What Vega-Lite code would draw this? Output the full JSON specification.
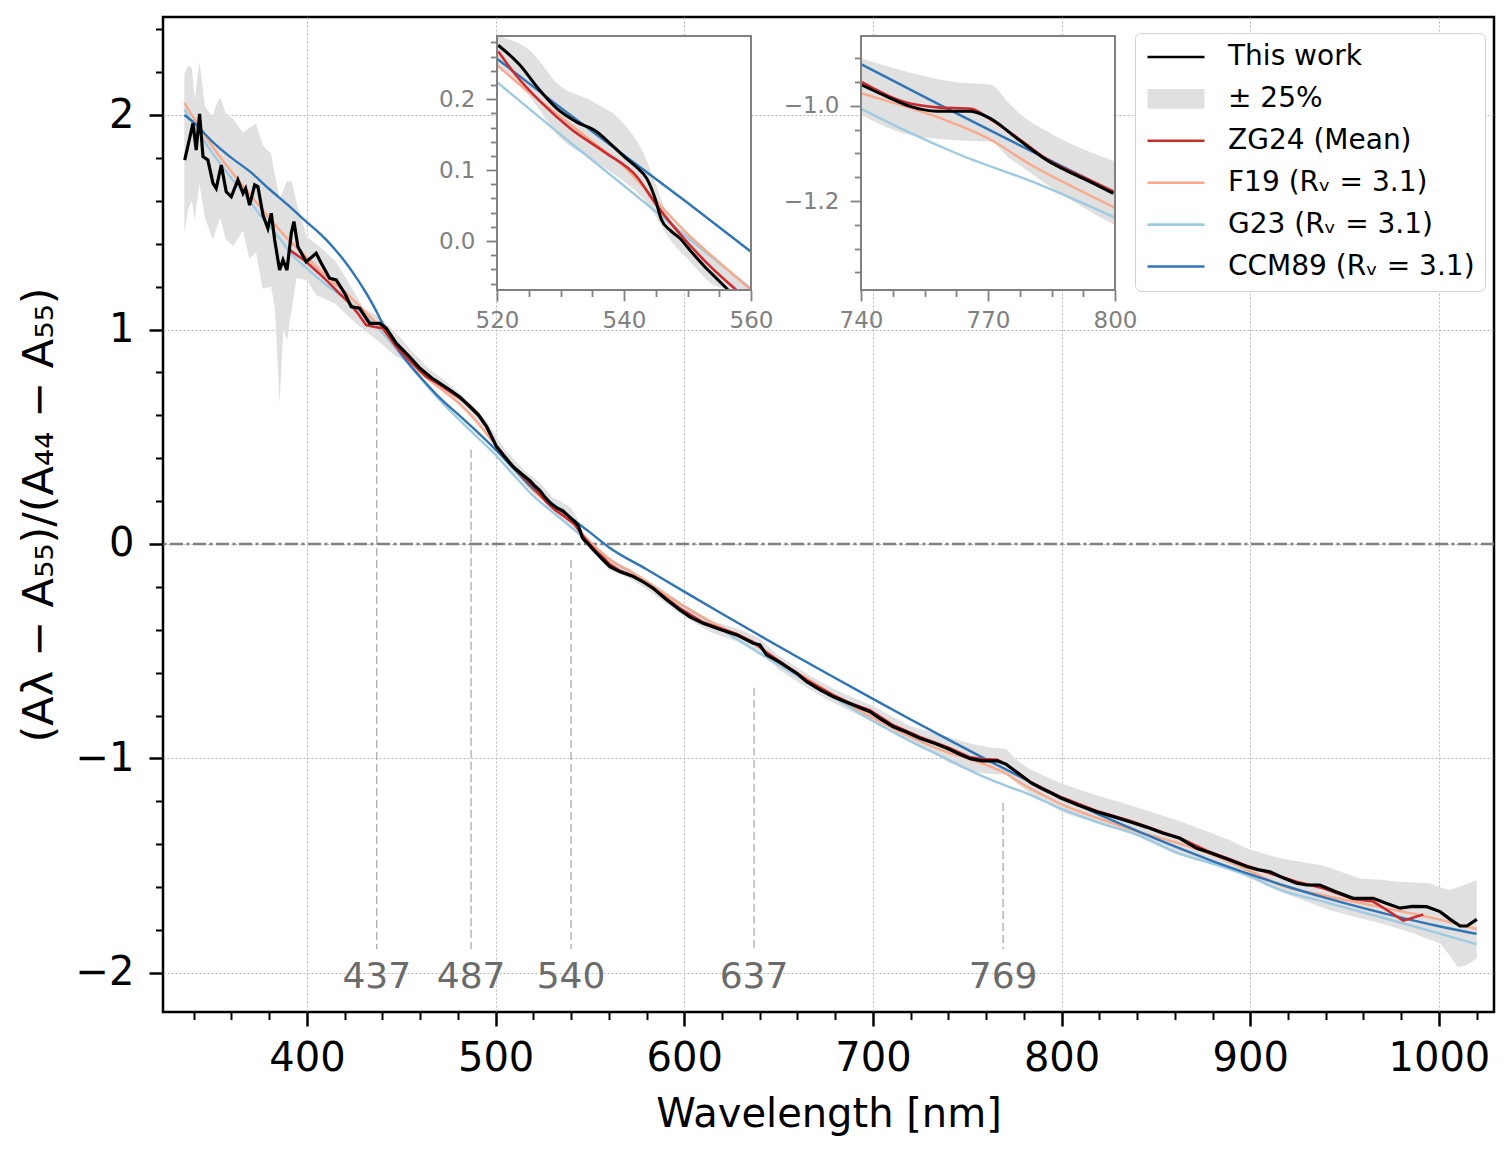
{
  "$schema": "https://vega.github.io/schema/vega-lite/v6.json",
  "padding": {"left": 18, "top": 17, "right": 10, "bottom": 10},
  "config": {"font": "DejaVu Sans"},
  "datasets": {
    "tw": [
      {"x":335.2,"y":1.79},{"x":337.5,"y":1.88},{"x":339.6,"y":1.961},{"x":341.3,"y":1.837},{"x":343.1,"y":2.005},{"x":344.9,"y":1.806},{"x":347.5,"y":1.79},{"x":350.2,"y":1.681},{"x":351.9,"y":1.658},{"x":354.6,"y":1.767},{"x":357.2,"y":1.642},{"x":359.9,"y":1.619},{"x":363.4,"y":1.697},{"x":366.1,"y":1.635},{"x":367.5,"y":1.658},{"x":369.6,"y":1.58},{"x":372.3,"y":1.674},{"x":374.0,"y":1.666},{"x":376.7,"y":1.534},{"x":379.3,"y":1.472},{"x":381.1,"y":1.542},{"x":382.9,"y":1.417},{"x":385.5,"y":1.277},{"x":387.3,"y":1.324},{"x":389.4,"y":1.277},{"x":391.7,"y":1.449},{"x":393.1,"y":1.503},{"x":395.2,"y":1.386},{"x":399.6,"y":1.316},{"x":404.9,"y":1.355},{"x":407.6,"y":1.309},{"x":412.0,"y":1.239},{"x":415.5,"y":1.231},{"x":420.0,"y":1.169},{"x":423.5,"y":1.106},{"x":427.9,"y":1.099},{"x":433.2,"y":1.029},{"x":438.5,"y":1.029},{"x":442.0,"y":1.006},{"x":447.3,"y":0.936},{"x":454.4,"y":0.873},{"x":459.9,"y":0.819},{"x":466,"y":0.775},{"x":475.8,"y":0.718},{"x":481,"y":0.685},{"x":486.4,"y":0.64},{"x":491,"y":0.6},{"x":495.2,"y":0.547},{"x":500.5,"y":0.454},{"x":505,"y":0.405},{"x":509.3,"y":0.36},{"x":514,"y":0.325},{"x":518.2,"y":0.295},{"x":520.2,"y":0.276},{"x":523.6,"y":0.248},{"x":526.5,"y":0.215},{"x":529.4,"y":0.187},{"x":532.5,"y":0.168},{"x":535.7,"y":0.154},{"x":538,"y":0.136},{"x":540.4,"y":0.116},{"x":542,"y":0.104},{"x":543.6,"y":0.088},{"x":544.9,"y":0.06},{"x":545.9,"y":0.03},{"x":547.3,"y":0.015},{"x":548.8,"y":0.004},{"x":550.5,"y":-0.014},{"x":552.5,"y":-0.034},{"x":554.5,"y":-0.052},{"x":556.4,"y":-0.069},{"x":560.6,"y":-0.106},{"x":566,"y":-0.13},{"x":573,"y":-0.152},{"x":578,"y":-0.175},{"x":583.5,"y":-0.207},{"x":590,"y":-0.255},{"x":597.7,"y":-0.308},{"x":603,"y":-0.34},{"x":610,"y":-0.37},{"x":618,"y":-0.395},{"x":627.8,"y":-0.424},{"x":636.6,"y":-0.463},{"x":640.1,"y":-0.471},{"x":643.6,"y":-0.517},{"x":650.7,"y":-0.552},{"x":659.6,"y":-0.603},{"x":664.9,"y":-0.642},{"x":672,"y":-0.68},{"x":679,"y":-0.712},{"x":688,"y":-0.745},{"x":698.4,"y":-0.782},{"x":704,"y":-0.815},{"x":710.8,"y":-0.852},{"x":718,"y":-0.878},{"x":724.9,"y":-0.906},{"x":733,"y":-0.93},{"x":740.2,"y":-0.956},{"x":746,"y":-0.98},{"x":751.6,"y":-1.001},{"x":757.9,"y":-1.011},{"x":765.8,"y":-1.011},{"x":770.5,"y":-1.026},{"x":776.8,"y":-1.068},{"x":783.9,"y":-1.114},{"x":788.5,"y":-1.136},{"x":793.3,"y":-1.156},{"x":799.6,"y":-1.184},{"x":809,"y":-1.218},{"x":818.6,"y":-1.248},{"x":827,"y":-1.27},{"x":836.2,"y":-1.295},{"x":845,"y":-1.32},{"x":853.9,"y":-1.349},{"x":862.7,"y":-1.372},{"x":871.6,"y":-1.419},{"x":876.9,"y":-1.434},{"x":889.2,"y":-1.473},{"x":898.1,"y":-1.504},{"x":904,"y":-1.518},{"x":910.4,"y":-1.528},{"x":917,"y":-1.555},{"x":924.6,"y":-1.582},{"x":930,"y":-1.59},{"x":936.9,"y":-1.59},{"x":945,"y":-1.62},{"x":954.6,"y":-1.652},{"x":965.2,"y":-1.652},{"x":972,"y":-1.675},{"x":979.4,"y":-1.698},{"x":986,"y":-1.69},{"x":993.5,"y":-1.691},{"x":1000.6,"y":-1.714},{"x":1006,"y":-1.75},{"x":1011.2,"y":-1.781},{"x":1014.8,"y":-1.781},{"x":1020.1,"y":-1.75}
    ],
    "zg": [
      {"x":390.8,"y":1.371},{"x":395,"y":1.345},{"x":399.6,"y":1.316},{"x":406,"y":1.265},{"x":412,"y":1.215},{"x":417,"y":1.17},{"x":422.6,"y":1.122},{"x":427,"y":1.075},{"x":431.4,"y":1.021},{"x":436,"y":1.012},{"x":440.3,"y":1.006},{"x":447.3,"y":0.92},{"x":455,"y":0.85},{"x":463.2,"y":0.78},{"x":470,"y":0.745},{"x":475.8,"y":0.71},{"x":481,"y":0.68},{"x":486.4,"y":0.645},{"x":491,"y":0.605},{"x":495.2,"y":0.55},{"x":500.5,"y":0.455},{"x":505,"y":0.405},{"x":510,"y":0.355},{"x":515,"y":0.31},{"x":520.2,"y":0.267},{"x":522.6,"y":0.238},{"x":527,"y":0.195},{"x":531.5,"y":0.159},{"x":537,"y":0.125},{"x":542,"y":0.091},{"x":545.1,"y":0.051},{"x":549.9,"y":-0.001},{"x":553.5,"y":-0.035},{"x":557.7,"y":-0.069},{"x":560.6,"y":-0.095},{"x":566,"y":-0.125},{"x":573,"y":-0.15},{"x":583.5,"y":-0.205},{"x":590,"y":-0.25},{"x":597.7,"y":-0.3},{"x":610,"y":-0.365},{"x":618,"y":-0.39},{"x":627.8,"y":-0.42},{"x":636.6,"y":-0.458},{"x":643.6,"y":-0.505},{"x":650.7,"y":-0.548},{"x":664.9,"y":-0.635},{"x":679,"y":-0.705},{"x":688,"y":-0.742},{"x":698.4,"y":-0.775},{"x":710.8,"y":-0.845},{"x":724.9,"y":-0.9},{"x":740.2,"y":-0.95},{"x":751.6,"y":-0.995},{"x":758,"y":-1.003},{"x":766,"y":-1.006},{"x":770.5,"y":-1.028},{"x":776.8,"y":-1.066},{"x":783.9,"y":-1.112},{"x":793.3,"y":-1.153},{"x":799.6,"y":-1.18},{"x":818.6,"y":-1.245},{"x":836.2,"y":-1.29},{"x":853.9,"y":-1.345},{"x":862.7,"y":-1.37},{"x":876.9,"y":-1.43},{"x":889.2,"y":-1.47},{"x":898,"y":-1.5},{"x":910.4,"y":-1.535},{"x":924.6,"y":-1.575},{"x":938.7,"y":-1.605},{"x":954.6,"y":-1.655},{"x":965.2,"y":-1.667},{"x":973,"y":-1.71},{"x":981.1,"y":-1.756},{"x":991.7,"y":-1.727}
    ],
    "f19": [
      {"x":335,"y":2.057},{"x":340,"y":1.985},{"x":350,"y":1.852},{"x":360,"y":1.735},{"x":370,"y":1.628},{"x":380,"y":1.52},{"x":390,"y":1.42},{"x":400,"y":1.336},{"x":410,"y":1.25},{"x":420,"y":1.175},{"x":430,"y":1.09},{"x":440,"y":1.0},{"x":450,"y":0.895},{"x":460,"y":0.8},{"x":470,"y":0.73},{"x":480,"y":0.66},{"x":490,"y":0.57},{"x":500,"y":0.46},{"x":510,"y":0.355},{"x":520,"y":0.248},{"x":525,"y":0.21},{"x":530,"y":0.175},{"x":535,"y":0.14},{"x":540,"y":0.105},{"x":545,"y":0.057},{"x":550,"y":0.01},{"x":555,"y":-0.03},{"x":560,"y":-0.07},{"x":570,"y":-0.12},{"x":580,"y":-0.175},{"x":590,"y":-0.235},{"x":600,"y":-0.29},{"x":620,"y":-0.39},{"x":640,"y":-0.48},{"x":650,"y":-0.55},{"x":660,"y":-0.6},{"x":680,"y":-0.71},{"x":700,"y":-0.81},{"x":720,"y":-0.9},{"x":740,"y":-0.973},{"x":750,"y":-1.0},{"x":760,"y":-1.03},{"x":770,"y":-1.068},{"x":780,"y":-1.123},{"x":790,"y":-1.17},{"x":800,"y":-1.214},{"x":820,"y":-1.28},{"x":840,"y":-1.34},{"x":862,"y":-1.395},{"x":880,"y":-1.45},{"x":900,"y":-1.525},{"x":916,"y":-1.59},{"x":940,"y":-1.64},{"x":968,"y":-1.691},{"x":1000,"y":-1.75},{"x":1020,"y":-1.795}
    ],
    "g23": [
      {"x":335,"y":2.026},{"x":340,"y":1.955},{"x":350,"y":1.821},{"x":360,"y":1.705},{"x":368,"y":1.619},{"x":376,"y":1.525},{"x":385.5,"y":1.425},{"x":392,"y":1.35},{"x":400,"y":1.285},{"x":410,"y":1.21},{"x":420,"y":1.145},{"x":430,"y":1.07},{"x":440,"y":0.985},{"x":450,"y":0.88},{"x":460,"y":0.775},{"x":470,"y":0.675},{"x":480,"y":0.585},{"x":490,"y":0.5},{"x":500,"y":0.415},{"x":510,"y":0.318},{"x":520,"y":0.224},{"x":530,"y":0.15},{"x":540,"y":0.078},{"x":550,"y":0.005},{"x":560,"y":-0.067},{"x":570,"y":-0.125},{"x":580,"y":-0.18},{"x":600,"y":-0.29},{"x":620,"y":-0.4},{"x":640,"y":-0.51},{"x":660,"y":-0.615},{"x":680,"y":-0.72},{"x":700,"y":-0.825},{"x":720,"y":-0.92},{"x":740,"y":-1.006},{"x":750,"y":-1.05},{"x":762.6,"y":-1.1},{"x":781.5,"y":-1.163},{"x":800,"y":-1.235},{"x":820,"y":-1.3},{"x":840,"y":-1.355},{"x":862,"y":-1.442},{"x":880,"y":-1.49},{"x":900,"y":-1.55},{"x":916,"y":-1.613},{"x":940,"y":-1.67},{"x":968,"y":-1.737},{"x":1000,"y":-1.815},{"x":1020,"y":-1.866}
    ],
    "ccm": [
      {"x":335,"y":2.0},{"x":340,"y":1.965},{"x":350,"y":1.875},{"x":360,"y":1.8},{"x":370,"y":1.735},{"x":380,"y":1.655},{"x":390,"y":1.58},{"x":400,"y":1.5},{"x":405,"y":1.462},{"x":410,"y":1.42},{"x":415,"y":1.372},{"x":420,"y":1.318},{"x":425,"y":1.257},{"x":430,"y":1.19},{"x":435,"y":1.115},{"x":440,"y":1.03},{"x":445,"y":0.953},{"x":450,"y":0.885},{"x":460,"y":0.78},{"x":470,"y":0.685},{"x":480,"y":0.605},{"x":490,"y":0.525},{"x":500,"y":0.44},{"x":510,"y":0.348},{"x":520,"y":0.257},{"x":530,"y":0.188},{"x":540,"y":0.121},{"x":550,"y":0.054},{"x":560,"y":-0.015},{"x":580,"y":-0.118},{"x":600,"y":-0.222},{"x":620,"y":-0.325},{"x":640,"y":-0.427},{"x":660,"y":-0.527},{"x":680,"y":-0.625},{"x":700,"y":-0.722},{"x":720,"y":-0.818},{"x":740,"y":-0.912},{"x":760,"y":-1.004},{"x":780,"y":-1.094},{"x":800,"y":-1.182},{"x":820,"y":-1.262},{"x":840,"y":-1.338},{"x":860,"y":-1.41},{"x":880,"y":-1.478},{"x":900,"y":-1.54},{"x":920,"y":-1.598},{"x":940,"y":-1.65},{"x":960,"y":-1.698},{"x":980,"y":-1.742},{"x":1000,"y":-1.782},{"x":1020,"y":-1.818}
    ],
    "band": [
      {"x":335,"lo":1.45,"hi":2.19},{"x":337,"lo":1.56,"hi":2.23},{"x":339,"lo":1.6,"hi":2.22},{"x":340.5,"lo":1.51,"hi":2.07},{"x":343,"lo":1.68,"hi":2.25},{"x":346,"lo":1.52,"hi":2.04},{"x":350,"lo":1.42,"hi":1.99},{"x":352,"lo":1.47,"hi":2.05},{"x":354,"lo":1.52,"hi":2.08},{"x":357,"lo":1.42,"hi":2.01},{"x":361,"lo":1.39,"hi":1.98},{"x":366,"lo":1.46,"hi":1.92},{"x":369.5,"lo":1.33,"hi":1.94},{"x":373,"lo":1.36,"hi":1.96},{"x":376.5,"lo":1.19,"hi":1.86},{"x":381,"lo":1.2,"hi":1.82},{"x":383,"lo":1.1,"hi":1.72},{"x":385.5,"lo":0.65,"hi":1.61},{"x":387.5,"lo":1.0,"hi":1.65},{"x":389.5,"lo":0.95,"hi":1.69},{"x":392,"lo":1.1,"hi":1.69},{"x":394.5,"lo":1.24,"hi":1.59},{"x":400,"lo":1.23,"hi":1.43},{"x":405,"lo":1.16,"hi":1.4},{"x":410,"lo":1.14,"hi":1.36},{"x":415,"lo":1.12,"hi":1.32},{"x":422,"lo":1.06,"hi":1.22},{"x":430,"lo":1.0,"hi":1.1},{"x":438,"lo":0.945,"hi":1.06},{"x":447,"lo":0.875,"hi":0.985},{"x":455,"lo":0.84,"hi":0.905},{"x":465,"lo":0.755,"hi":0.815},{"x":475,"lo":0.69,"hi":0.75},{"x":485,"lo":0.62,"hi":0.67},{"x":495,"lo":0.52,"hi":0.575},{"x":505,"lo":0.38,"hi":0.44},{"x":515,"lo":0.28,"hi":0.345},{"x":520,"lo":0.245,"hi":0.31},{"x":525,"lo":0.205,"hi":0.27},{"x":530,"lo":0.145,"hi":0.218},{"x":535,"lo":0.115,"hi":0.197},{"x":540,"lo":0.084,"hi":0.165},{"x":543,"lo":0.06,"hi":0.125},{"x":545,"lo":0.035,"hi":0.08},{"x":547,"lo":0.005,"hi":0.035},{"x":550,"lo":-0.025,"hi":0.01},{"x":555,"lo":-0.065,"hi":-0.03},{"x":560,"lo":-0.12,"hi":-0.085},{"x":570,"lo":-0.155,"hi":-0.11},{"x":580,"lo":-0.21,"hi":-0.165},{"x":590,"lo":-0.275,"hi":-0.22},{"x":600,"lo":-0.34,"hi":-0.285},{"x":615,"lo":-0.415,"hi":-0.36},{"x":630,"lo":-0.46,"hi":-0.4},{"x":640,"lo":-0.5,"hi":-0.44},{"x":650,"lo":-0.585,"hi":-0.52},{"x":665,"lo":-0.67,"hi":-0.605},{"x":680,"lo":-0.745,"hi":-0.68},{"x":700,"lo":-0.83,"hi":-0.755},{"x":720,"lo":-0.915,"hi":-0.85},{"x":740,"lo":-1.019,"hi":-0.9},{"x":751.6,"lo":-1.061,"hi":-0.93},{"x":762.6,"lo":-1.072,"hi":-0.95},{"x":770.5,"lo":-1.075,"hi":-0.955},{"x":775,"lo":-1.11,"hi":-0.995},{"x":778,"lo":-1.128,"hi":-1.02},{"x":784,"lo":-1.166,"hi":-1.054},{"x":800,"lo":-1.251,"hi":-1.117},{"x":818,"lo":-1.3,"hi":-1.17},{"x":836,"lo":-1.349,"hi":-1.217},{"x":862,"lo":-1.45,"hi":-1.29},{"x":889,"lo":-1.52,"hi":-1.38},{"x":898,"lo":-1.551,"hi":-1.419},{"x":915.7,"lo":-1.621,"hi":-1.465},{"x":936.9,"lo":-1.69,"hi":-1.497},{"x":942,"lo":-1.706,"hi":-1.51},{"x":958,"lo":-1.745,"hi":-1.559},{"x":968.7,"lo":-1.768,"hi":-1.565},{"x":977.5,"lo":-1.79,"hi":-1.574},{"x":986.4,"lo":-1.815,"hi":-1.578},{"x":995,"lo":-1.845,"hi":-1.582},{"x":1000.6,"lo":-1.862,"hi":-1.6},{"x":1005.8,"lo":-1.92,"hi":-1.613},{"x":1010,"lo":-1.975,"hi":-1.6},{"x":1014.8,"lo":-1.963,"hi":-1.585},{"x":1020,"lo":-1.932,"hi":-1.566}
    ],
    "marks": [
      {"w":437,"top":0.82},{"w":487,"top":0.438},{"w":540,"top":-0.075},{"w":637,"top":-0.67},{"w":769,"top":-1.207}
    ]
  },
  "width": 1331,
  "height": 995,
  "view": {"stroke": "black", "strokeWidth": 2.5},
  "resolve": {"scale": {"x": "independent", "y": "independent"}, "axis": {"x": "independent", "y": "independent"}},
  "layer": [
    {
      "data": {"name": "band"},
      "mark": {"type": "area", "color": "#e0e0e0", "clip": true},
      "encoding": {
        "x": {"field": "x", "type": "quantitative", "scale": {"domain": [323.7, 1029.2], "nice": false, "zero": false},
          "axis": {"orient": "bottom", "title": "Wavelength [nm]", "values": [400,500,600,700,800,900,1000], "format": "d",
            "domain": false, "tickColor": "black", "tickWidth": 2.5, "tickSize": 14,
            "grid": true, "gridColor": "#b0b0b0", "gridDash": [2, 2], "gridWidth": 0.9,
            "labelFontSize": 40, "labelColor": "black", "labelPadding": 12, "labelOverlap": false, "labelFlush": false,
            "titleFontSize": 40, "titleFontWeight": "normal", "titleColor": "black", "titlePadding": 16}},
        "y": {"field": "lo", "type": "quantitative", "scale": {"domain": [-2.182, 2.457], "nice": false, "zero": false},
          "axis": {"orient": "left", "title": "(Aλ − A₅₅)/(A₄₄ − A₅₅)", "values": [-2,-1,0,1,2], "format": "d",
            "domain": false, "tickColor": "black", "tickWidth": 2.5, "tickSize": 14,
            "grid": true, "gridColor": "#b0b0b0", "gridDash": [2, 2], "gridWidth": 0.9,
            "labelFontSize": 40, "labelColor": "black", "labelPadding": 15, "labelOverlap": false, "labelFlush": false,
            "titleFontSize": 43, "titleFontWeight": "normal", "titleColor": "black", "titlePadding": 14}},
        "y2": {"field": "hi"}
      }
    },
    {
      "data": {"name": "marks"},
      "mark": {"type": "rule", "color": "#ababab", "strokeWidth": 1.3, "strokeDash": [8, 4]},
      "encoding": {
        "x": {"field": "w", "type": "quantitative", "scale": {"domain": [323.7, 1029.2], "nice": false, "zero": false},
          "axis": {"orient": "bottom", "title": null, "values": [340,360,380,420,440,460,480,520,540,560,580,620,640,660,680,720,740,760,780,820,840,860,880,920,940,960,980,1020],
            "labels": false, "domain": false, "grid": false, "tickColor": "black", "tickWidth": 2, "tickSize": 7.5}},
        "y": {"field": "top", "type": "quantitative", "scale": {"domain": [-2.182, 2.457], "nice": false, "zero": false},
          "axis": {"orient": "left", "title": null, "values": [-1.8,-1.6,-1.4,-1.2,-0.8,-0.6,-0.4,-0.2,0.2,0.4,0.6,0.8,1.2,1.4,1.6,1.8,2.2,2.4],
            "labels": false, "domain": false, "grid": false, "tickColor": "black", "tickWidth": 2, "tickSize": 7.5}},
        "y2": {"datum": -1.89}
      }
    },
    {
      "data": {"values": [{"v": 0}]},
      "mark": {"type": "rule", "color": "#808080", "strokeWidth": 2.5, "strokeDash": [13, 3.5, 3, 3.5]},
      "encoding": {"y": {"field": "v", "type": "quantitative", "scale": {"domain": [-2.182, 2.457], "nice": false, "zero": false}, "axis": null}}
    },
    {
      "data": {"name": "marks"},
      "mark": {"type": "text", "color": "#6b6b6b", "fontSize": 36, "baseline": "middle", "align": "center"},
      "encoding": {
        "x": {"field": "w", "type": "quantitative", "scale": {"domain": [323.7, 1029.2], "nice": false, "zero": false}, "axis": null},
        "y": {"datum": -2.02, "type": "quantitative", "scale": {"domain": [-2.182, 2.457], "nice": false, "zero": false}, "axis": null},
        "text": {"field": "w", "type": "quantitative"}
      }
    },
    {
      "data": {"name": "g23"},
      "mark": {"type": "line", "strokeWidth": 2.4, "interpolate": "monotone", "clip": true},
      "encoding": {
        "x": {"field": "x", "type": "quantitative", "scale": {"domain": [323.7, 1029.2], "nice": false, "zero": false}, "axis": null},
        "y": {"field": "y", "type": "quantitative", "scale": {"domain": [-2.182, 2.457], "nice": false, "zero": false}, "axis": null},
        "color": {"datum": "G23 (Rᵥ = 3.1)", "type": "nominal",
          "scale": {"domain": ["This work", "± 25%", "ZG24 (Mean)", "F19 (Rᵥ = 3.1)", "G23 (Rᵥ = 3.1)", "CCM89 (Rᵥ = 3.1)"], "range": ["#000000", "#e0e0e0", "#cb2b2e", "#f9a98b", "#9ecae1", "#2f74b5"]},
          "legend": {"orient": "none", "legendX": 972, "legendY": 16, "title": null,
            "fillColor": "white", "strokeColor": "#d0d0d0", "cornerRadius": 6, "padding": 10,
            "labelFontSize": 28, "labelFont": "DejaVu Sans", "labelColor": "black", "labelLimit": 600,
            "symbolType": "M-2,0H2", "symbolSize": 812, "symbolStrokeWidth": 2.6, "symbolOffset": 17, "labelOffset": 38, "rowPadding": 13.9,
            "encode": {"symbols": {"update": {
              "shape": {"signal": "datum.value === '± 25%' ? 'M-2,-0.7H2V0.7H-2Z' : 'M-2,0H2'"},
              "fill": {"signal": "datum.value === '± 25%' ? '#e0e0e0' : 'transparent'"},
              "strokeWidth": {"signal": "datum.value === '± 25%' ? 0 : 2.6"}
            }}}}
        }
      }
    },
    {
      "data": {"name": "f19"},
      "mark": {"type": "line", "strokeWidth": 2.4, "interpolate": "monotone", "clip": true},
      "encoding": {
        "x": {"field": "x", "type": "quantitative", "scale": {"domain": [323.7, 1029.2], "nice": false, "zero": false}, "axis": null},
        "y": {"field": "y", "type": "quantitative", "scale": {"domain": [-2.182, 2.457], "nice": false, "zero": false}, "axis": null},
        "color": {"datum": "F19 (Rᵥ = 3.1)", "type": "nominal"}
      }
    },
    {
      "data": {"name": "ccm"},
      "mark": {"type": "line", "strokeWidth": 2.4, "interpolate": "monotone", "clip": true},
      "encoding": {
        "x": {"field": "x", "type": "quantitative", "scale": {"domain": [323.7, 1029.2], "nice": false, "zero": false}, "axis": null},
        "y": {"field": "y", "type": "quantitative", "scale": {"domain": [-2.182, 2.457], "nice": false, "zero": false}, "axis": null},
        "color": {"datum": "CCM89 (Rᵥ = 3.1)", "type": "nominal"}
      }
    },
    {
      "data": {"name": "zg"},
      "mark": {"type": "line", "strokeWidth": 2.6, "clip": true},
      "encoding": {
        "x": {"field": "x", "type": "quantitative", "scale": {"domain": [323.7, 1029.2], "nice": false, "zero": false}, "axis": null},
        "y": {"field": "y", "type": "quantitative", "scale": {"domain": [-2.182, 2.457], "nice": false, "zero": false}, "axis": null},
        "color": {"datum": "ZG24 (Mean)", "type": "nominal"}
      }
    },
    {
      "data": {"name": "tw"},
      "mark": {"type": "line", "strokeWidth": 3.2, "clip": true},
      "encoding": {
        "x": {"field": "x", "type": "quantitative", "scale": {"domain": [323.7, 1029.2], "nice": false, "zero": false}, "axis": null},
        "y": {"field": "y", "type": "quantitative", "scale": {"domain": [-2.182, 2.457], "nice": false, "zero": false}, "axis": null},
        "color": {"datum": "This work", "type": "nominal"}
      }
    },

    {
      "data": {"values": [{"a": 1}]},
      "mark": {"type": "rect", "fill": "white", "strokeWidth": 0},
      "encoding": {
        "x": {"datum": 520, "type": "quantitative", "scale": {"domain": [520, 560], "range": [334, 588], "nice": false, "zero": false},
          "axis": {"orient": "bottom", "offset": -722, "zindex": 3, "title": null, "values": [520, 540, 560], "format": "d",
            "domain": false, "grid": false, "tickColor": "#808080", "tickWidth": 1.8, "tickSize": 11,
            "labelColor": "#808080", "labelFontSize": 23, "labelPadding": 8, "labelOverlap": false, "labelFlush": false}},
        "x2": {"datum": 560},
        "y": {"datum": -0.069, "type": "quantitative", "scale": {"domain": [-0.069, 0.289], "range": [273, 19], "nice": false, "zero": false},
          "axis": {"orient": "left", "offset": -334, "zindex": 3, "title": null, "values": [0, 0.1, 0.2], "format": ".1f",
            "domain": false, "grid": false, "tickColor": "#808080", "tickWidth": 1.8, "tickSize": 11,
            "labelColor": "#808080", "labelFontSize": 23, "labelPadding": 11, "labelOverlap": false, "labelFlush": false}},
        "y2": {"datum": 0.289}
      }
    },
    {
      "data": {"name": "band"},
      "transform": [{"filter": "datum.x >= 520 && datum.x <= 560"}],
      "mark": {"type": "area", "color": "#e0e0e0", "interpolate": "monotone"},
      "encoding": {
        "x": {"field": "x", "type": "quantitative", "scale": {"domain": [520, 560], "range": [334, 588], "nice": false, "zero": false, "clamp": true},
          "axis": {"orient": "bottom", "offset": -722, "zindex": 3, "title": null, "values": [525,530,535,545,550,555], "labels": false,
            "domain": false, "grid": false, "tickColor": "#808080", "tickWidth": 1.8, "tickSize": 6.5}},
        "y": {"field": "lo", "type": "quantitative", "scale": {"domain": [-0.069, 0.289], "range": [273, 19], "nice": false, "zero": false, "clamp": true},
          "axis": {"orient": "left", "offset": -334, "zindex": 3, "title": null, "values": [-0.06,-0.04,-0.02,0.02,0.04,0.06,0.08,0.12,0.14,0.16,0.18,0.22,0.24,0.26,0.28], "labels": false,
            "domain": false, "grid": false, "tickColor": "#808080", "tickWidth": 1.8, "tickSize": 6.5}},
        "y2": {"field": "hi"}
      }
    },
    {"data": {"name": "g23"}, "transform": [{"filter": "datum.x >= 520 && datum.x <= 560"}],
      "mark": {"type": "line", "color": "#9ecae1", "strokeWidth": 2.4, "interpolate": "monotone"},
      "encoding": {"x": {"field": "x", "type": "quantitative", "scale": {"domain": [520, 560], "range": [334, 588], "nice": false, "zero": false, "clamp": true}, "axis": null},
        "y": {"field": "y", "type": "quantitative", "scale": {"domain": [-0.069, 0.289], "range": [273, 19], "nice": false, "zero": false, "clamp": true}, "axis": null}}},
    {"data": {"name": "f19"}, "transform": [{"filter": "datum.x >= 520 && datum.x <= 560"}],
      "mark": {"type": "line", "color": "#f9a98b", "strokeWidth": 2.4, "interpolate": "monotone"},
      "encoding": {"x": {"field": "x", "type": "quantitative", "scale": {"domain": [520, 560], "range": [334, 588], "nice": false, "zero": false, "clamp": true}, "axis": null},
        "y": {"field": "y", "type": "quantitative", "scale": {"domain": [-0.069, 0.289], "range": [273, 19], "nice": false, "zero": false, "clamp": true}, "axis": null}}},
    {"data": {"name": "ccm"}, "transform": [{"filter": "datum.x >= 520 && datum.x <= 560"}],
      "mark": {"type": "line", "color": "#2f74b5", "strokeWidth": 2.4, "interpolate": "monotone"},
      "encoding": {"x": {"field": "x", "type": "quantitative", "scale": {"domain": [520, 560], "range": [334, 588], "nice": false, "zero": false, "clamp": true}, "axis": null},
        "y": {"field": "y", "type": "quantitative", "scale": {"domain": [-0.069, 0.289], "range": [273, 19], "nice": false, "zero": false, "clamp": true}, "axis": null}}},
    {"data": {"name": "zg"}, "transform": [{"filter": "datum.x >= 520 && datum.x <= 560"}],
      "mark": {"type": "line", "color": "#cb2b2e", "strokeWidth": 2.6, "interpolate": "monotone"},
      "encoding": {"x": {"field": "x", "type": "quantitative", "scale": {"domain": [520, 560], "range": [334, 588], "nice": false, "zero": false, "clamp": true}, "axis": null},
        "y": {"field": "y", "type": "quantitative", "scale": {"domain": [-0.069, 0.289], "range": [273, 19], "nice": false, "zero": false, "clamp": true}, "axis": null}}},
    {"data": {"name": "tw"}, "transform": [{"filter": "datum.x >= 520 && datum.x <= 560"}],
      "mark": {"type": "line", "color": "#000000", "strokeWidth": 3, "interpolate": "monotone"},
      "encoding": {"x": {"field": "x", "type": "quantitative", "scale": {"domain": [520, 560], "range": [334, 588], "nice": false, "zero": false, "clamp": true}, "axis": null},
        "y": {"field": "y", "type": "quantitative", "scale": {"domain": [-0.069, 0.289], "range": [273, 19], "nice": false, "zero": false, "clamp": true}, "axis": null}}},
    {
      "data": {"values": [{"a": 1}]},
      "mark": {"type": "rect", "fill": null, "fillOpacity": 0, "stroke": "#808080", "strokeWidth": 2},
      "encoding": {
        "x": {"datum": 520, "type": "quantitative", "scale": {"domain": [520, 560], "range": [334, 588], "nice": false, "zero": false}, "axis": null},
        "x2": {"datum": 560},
        "y": {"datum": -0.069, "type": "quantitative", "scale": {"domain": [-0.069, 0.289], "range": [273, 19], "nice": false, "zero": false}, "axis": null},
        "y2": {"datum": 0.289}
      }
    },

    {
      "data": {"values": [{"a": 1}]},
      "mark": {"type": "rect", "fill": "white", "strokeWidth": 0},
      "encoding": {
        "x": {"datum": 740, "type": "quantitative", "scale": {"domain": [740, 800], "range": [698, 952], "nice": false, "zero": false},
          "axis": {"orient": "bottom", "offset": -722, "zindex": 3, "title": null, "values": [740, 770, 800], "format": "d",
            "domain": false, "grid": false, "tickColor": "#808080", "tickWidth": 1.8, "tickSize": 11,
            "labelColor": "#808080", "labelFontSize": 23, "labelPadding": 8, "labelOverlap": false, "labelFlush": false}},
        "x2": {"datum": 800},
        "y": {"datum": -1.387, "type": "quantitative", "scale": {"domain": [-1.387, -0.853], "range": [273, 19], "nice": false, "zero": false},
          "axis": {"orient": "left", "offset": -698, "zindex": 3, "title": null, "values": [-1.2, -1.0], "format": ".1f",
            "domain": false, "grid": false, "tickColor": "#808080", "tickWidth": 1.8, "tickSize": 11,
            "labelColor": "#808080", "labelFontSize": 23, "labelPadding": 11, "labelOverlap": false, "labelFlush": false}},
        "y2": {"datum": -0.853}
      }
    },
    {
      "data": {"name": "band"},
      "transform": [{"filter": "datum.x >= 740 && datum.x <= 800"}],
      "mark": {"type": "area", "color": "#e0e0e0", "interpolate": "monotone"},
      "encoding": {
        "x": {"field": "x", "type": "quantitative", "scale": {"domain": [740, 800], "range": [698, 952], "nice": false, "zero": false, "clamp": true},
          "axis": {"orient": "bottom", "offset": -722, "zindex": 3, "title": null, "values": [747.5,755,762.5,777.5,785,792.5], "labels": false,
            "domain": false, "grid": false, "tickColor": "#808080", "tickWidth": 1.8, "tickSize": 6.5}},
        "y": {"field": "lo", "type": "quantitative", "scale": {"domain": [-1.387, -0.853], "range": [273, 19], "nice": false, "zero": false, "clamp": true},
          "axis": {"orient": "left", "offset": -698, "zindex": 3, "title": null, "values": [-1.35,-1.3,-1.25,-1.15,-1.1,-1.05,-0.95,-0.9], "labels": false,
            "domain": false, "grid": false, "tickColor": "#808080", "tickWidth": 1.8, "tickSize": 6.5}},
        "y2": {"field": "hi"}
      }
    },
    {"data": {"name": "g23"}, "transform": [{"filter": "datum.x >= 740 && datum.x <= 800"}],
      "mark": {"type": "line", "color": "#9ecae1", "strokeWidth": 2.4, "interpolate": "monotone"},
      "encoding": {"x": {"field": "x", "type": "quantitative", "scale": {"domain": [740, 800], "range": [698, 952], "nice": false, "zero": false, "clamp": true}, "axis": null},
        "y": {"field": "y", "type": "quantitative", "scale": {"domain": [-1.387, -0.853], "range": [273, 19], "nice": false, "zero": false, "clamp": true}, "axis": null}}},
    {"data": {"name": "f19"}, "transform": [{"filter": "datum.x >= 740 && datum.x <= 800"}],
      "mark": {"type": "line", "color": "#f9a98b", "strokeWidth": 2.4, "interpolate": "monotone"},
      "encoding": {"x": {"field": "x", "type": "quantitative", "scale": {"domain": [740, 800], "range": [698, 952], "nice": false, "zero": false, "clamp": true}, "axis": null},
        "y": {"field": "y", "type": "quantitative", "scale": {"domain": [-1.387, -0.853], "range": [273, 19], "nice": false, "zero": false, "clamp": true}, "axis": null}}},
    {"data": {"name": "ccm"}, "transform": [{"filter": "datum.x >= 740 && datum.x <= 800"}],
      "mark": {"type": "line", "color": "#2f74b5", "strokeWidth": 2.4, "interpolate": "monotone"},
      "encoding": {"x": {"field": "x", "type": "quantitative", "scale": {"domain": [740, 800], "range": [698, 952], "nice": false, "zero": false, "clamp": true}, "axis": null},
        "y": {"field": "y", "type": "quantitative", "scale": {"domain": [-1.387, -0.853], "range": [273, 19], "nice": false, "zero": false, "clamp": true}, "axis": null}}},
    {"data": {"name": "zg"}, "transform": [{"filter": "datum.x >= 740 && datum.x <= 800"}],
      "mark": {"type": "line", "color": "#cb2b2e", "strokeWidth": 2.6, "interpolate": "monotone"},
      "encoding": {"x": {"field": "x", "type": "quantitative", "scale": {"domain": [740, 800], "range": [698, 952], "nice": false, "zero": false, "clamp": true}, "axis": null},
        "y": {"field": "y", "type": "quantitative", "scale": {"domain": [-1.387, -0.853], "range": [273, 19], "nice": false, "zero": false, "clamp": true}, "axis": null}}},
    {"data": {"name": "tw"}, "transform": [{"filter": "datum.x >= 740 && datum.x <= 800"}],
      "mark": {"type": "line", "color": "#000000", "strokeWidth": 3, "interpolate": "monotone"},
      "encoding": {"x": {"field": "x", "type": "quantitative", "scale": {"domain": [740, 800], "range": [698, 952], "nice": false, "zero": false, "clamp": true}, "axis": null},
        "y": {"field": "y", "type": "quantitative", "scale": {"domain": [-1.387, -0.853], "range": [273, 19], "nice": false, "zero": false, "clamp": true}, "axis": null}}},
    {
      "data": {"values": [{"a": 1}]},
      "mark": {"type": "rect", "fill": null, "fillOpacity": 0, "stroke": "#808080", "strokeWidth": 2},
      "encoding": {
        "x": {"datum": 740, "type": "quantitative", "scale": {"domain": [740, 800], "range": [698, 952], "nice": false, "zero": false}, "axis": null},
        "x2": {"datum": 800},
        "y": {"datum": -1.387, "type": "quantitative", "scale": {"domain": [-1.387, -0.853], "range": [273, 19], "nice": false, "zero": false}, "axis": null},
        "y2": {"datum": -0.853}
      }
    }
  ]
}
